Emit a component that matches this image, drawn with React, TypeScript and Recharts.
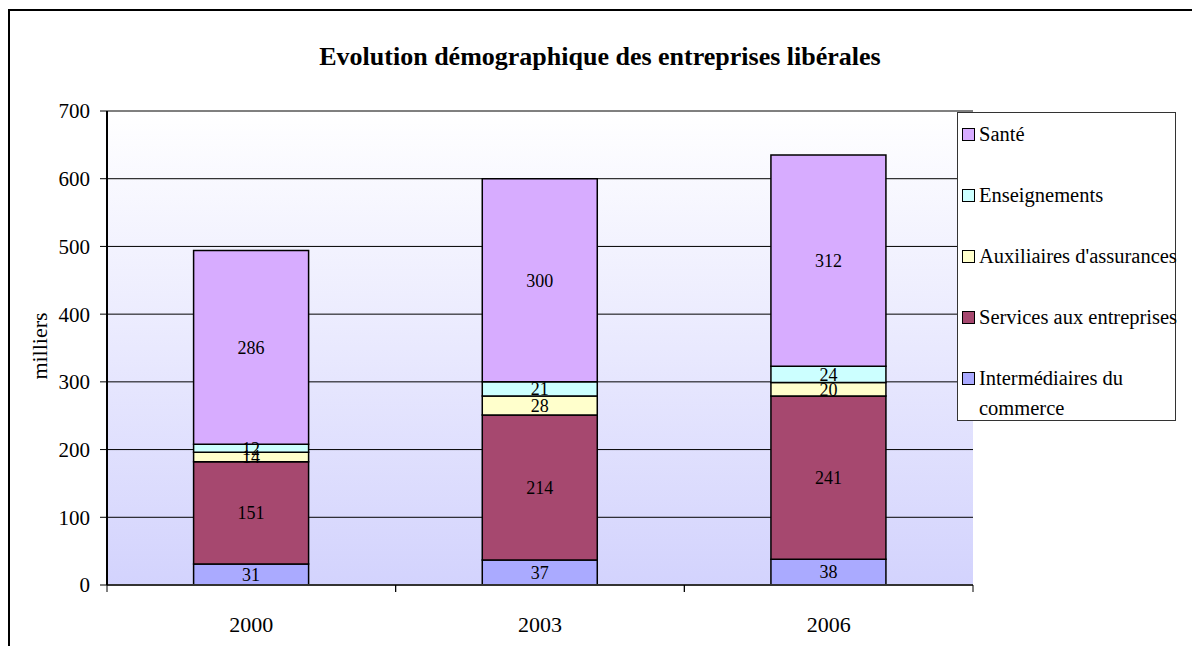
import React from 'react';
import {
  BarChart,
  Bar,
  CartesianGrid,
  XAxis,
  YAxis,
  LabelList,
} from 'recharts';

const years = ['2000', '2003', '2006'];
const intermediaires = [31, 37, 38];
const services = [151, 214, 241];
const auxiliaires = [14, 28, 20];
const enseignements = [12, 21, 24];
const sante = [286, 300, 312];
const yTicks = [0, 100, 200, 300, 400, 500, 600, 700];

// bottom to top in the stack
const series = [
  { key: 'inter', name: 'Intermédiaires du commerce', values: intermediaires, color: '#aaaaff' },
  { key: 'services', name: 'Services aux entreprises', values: services, color: '#a6486f' },
  { key: 'aux', name: "Auxiliaires d'assurances", values: auxiliaires, color: '#ffffcc' },
  { key: 'ens', name: 'Enseignements', values: enseignements, color: '#ccffff' },
  { key: 'sante', name: 'Santé', values: sante, color: '#d7acff' },
];

const data = years.map((year, i) => {
  const row: Record<string, string | number> = { year };
  series.forEach((s) => {
    row[s.key] = s.values[i];
  });
  return row;
});

const W = 1192;
const H = 646;
const FONT = '"Liberation Serif", "Times New Roman", serif';
const margin = { top: 111, right: 219, bottom: 0, left: 47 };
const yAxisWidth = 60;
const xAxisHeight = 61;
const plotWidth = W - margin.left - margin.right - yAxisWidth;
const band = plotWidth / years.length;

function YearTick(props: any) {
  const { x, y, payload } = props;
  return (
    <g>
      <line x1={x - band / 2} y1={y} x2={x - band / 2} y2={y + 7} stroke="#000" />
      <line x1={x + band / 2} y1={y} x2={x + band / 2} y2={y + 7} stroke="#000" />
      <text
        x={x}
        y={y + 31}
        dy="0.71em"
        textAnchor="middle"
        fontSize={22}
        fontFamily={FONT}
        fill="#000"
      >
        {payload.value}
      </text>
    </g>
  );
}

function SegLabel(props: any) {
  const { x, y, width, height, value } = props;
  return (
    <text
      x={x + width / 2}
      y={y + height / 2}
      dy="0.35em"
      textAnchor="middle"
      fontSize={18}
      fontFamily={FONT}
      fill="#000"
    >
      {value}
    </text>
  );
}

export default function App() {
  return (
    <div
      style={{
        position: 'fixed',
        left: 0,
        top: 0,
        width: W,
        height: H,
        overflow: 'hidden',
        background: '#fff',
        fontFamily: FONT,
      }}
    >
      <div
        style={{
          position: 'absolute',
          left: 8,
          top: 9,
          width: W + 20,
          height: H + 20,
          border: '2px solid #000',
          pointerEvents: 'none',
        }}
      />
      <div
        style={{
          position: 'absolute',
          left: 4,
          top: 42,
          width: W,
          textAlign: 'center',
          fontSize: 26,
          fontWeight: 'bold',
          color: '#000',
        }}
      >
        Evolution démographique des entreprises libérales
      </div>
      <div
        style={{
          position: 'absolute',
          left: 40,
          top: 346,
          transform: 'translate(-50%, -50%) rotate(-90deg)',
          fontSize: 22,
          whiteSpace: 'nowrap',
        }}
      >
        milliers
      </div>

      <div style={{ position: 'absolute', left: 0, top: 0 }}>
        <BarChart
          width={W}
          height={H}
          data={data}
          margin={margin}
          barCategoryGap="30%"
          style={{ fontFamily: FONT }}
        >
          <defs>
            <linearGradient id="plotBg" x1="0" y1="0" x2="0" y2="1">
              <stop offset="0%" stopColor="#ffffff" />
              <stop offset="100%" stopColor="#d3d3fd" />
            </linearGradient>
          </defs>
          <CartesianGrid
            vertical={false}
            stroke="#000"
            fill="url(#plotBg)"
            fillOpacity={1}
          />
          <XAxis
            dataKey="year"
            height={xAxisHeight}
            tickLine={false}
            tickSize={0}
            tickMargin={0}
            axisLine={{ stroke: '#333', strokeWidth: 2 }}
            tick={<YearTick />}
            interval={0}
          />
          <XAxis
            xAxisId="top"
            dataKey="year"
            orientation="top"
            height={0}
            tick={false}
            tickLine={false}
            axisLine={{ stroke: '#999', strokeWidth: 2 }}
          />
          <YAxis
            width={yAxisWidth}
            domain={[0, 700]}
            ticks={yTicks}
            interval={0}
            tickSize={7}
            tickMargin={10}
            axisLine={{ stroke: '#000', strokeWidth: 2 }}
            tickLine={{ stroke: '#000' }}
            tick={{ fontSize: 21, fontFamily: FONT, fill: '#000' }}
          />
          <YAxis
            yAxisId="right"
            orientation="right"
            width={0}
            domain={[0, 700]}
            tick={false}
            tickLine={false}
            axisLine={{ stroke: '#999', strokeWidth: 2 }}
          />
          {series.map((s) => (
            <Bar
              key={s.key}
              dataKey={s.key}
              name={s.name}
              stackId="a"
              fill={s.color}
              stroke="#000"
              strokeWidth={1.5}
              isAnimationActive={false}
            >
              <LabelList dataKey={s.key} content={<SegLabel />} />
            </Bar>
          ))}
        </BarChart>
      </div>

      <div
        style={{
          position: 'absolute',
          left: 957,
          top: 112,
          width: 219,
          height: 309,
          border: '1.5px solid #333',
          background: '#fff',
          boxSizing: 'border-box',
          padding: '6px 0 0 4px',
          fontFamily: FONT,
        }}
      >
        {[...series].reverse().map((s) => (
          <div
            key={s.key}
            style={{
              display: 'flex',
              alignItems: 'flex-start',
              height: 61,
              fontSize: 20.5,
              lineHeight: '30px',
              fontFamily: FONT,
            }}
          >
            <span
              style={{
                display: 'inline-block',
                width: 11,
                height: 11,
                marginTop: 9,
                marginRight: 4,
                flexShrink: 0,
                background: s.color,
                border: '1.5px solid #000',
              }}
            />
            <span style={{ width: 200, flexShrink: 0 }}>{s.name}</span>
          </div>
        ))}
      </div>
    </div>
  );
}
